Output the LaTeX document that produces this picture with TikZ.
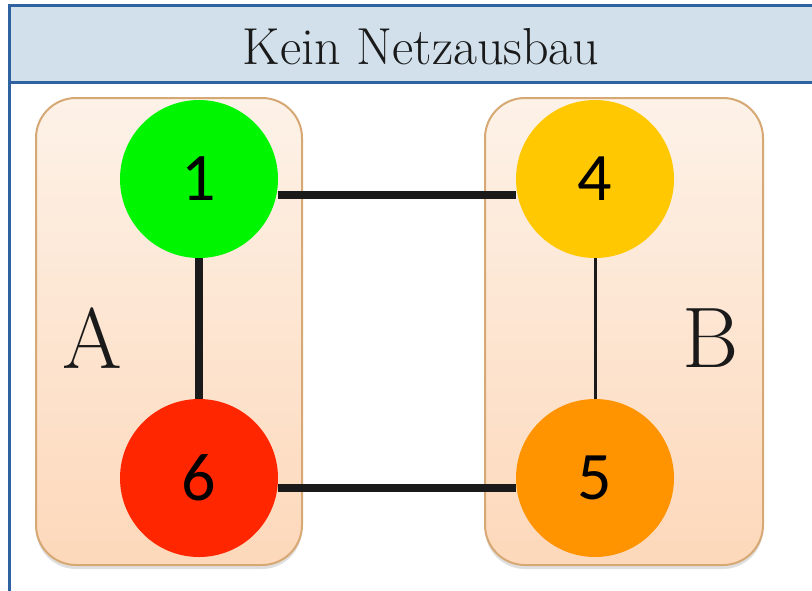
\documentclass[tikz,border=0pt]{standalone}
\usepackage{fontspec}
\newfontfamily\digitfont{Carlito}
\definecolor{frameblue}{RGB}{46, 98, 160}
\definecolor{bandblue}{RGB}{209, 224, 234}
\definecolor{groupedge}{RGB}{214, 168, 116}
\definecolor{grouptop}{RGB}{253, 242, 232}
\definecolor{groupbot}{RGB}{253, 216, 186}
\definecolor{gridgreen}{RGB}{0, 245, 0}
\definecolor{gridyellow}{RGB}{255, 200, 0}
\definecolor{gridorange}{RGB}{255, 148, 0}
\definecolor{gridred}{RGB}{255, 38, 0}
\definecolor{linkgray}{RGB}{26, 26, 26}
\usetikzlibrary{positioning, calc, shadows}

\begin{document}
\begin{tikzpicture}[x=0.5pt, y=-0.5pt,
    group/.style={draw=groupedge, line width=1pt, rounded corners=20pt, top color=grouptop, bottom color=groupbot,
      minimum height=233.5pt, drop shadow={shadow xshift=0pt, shadow yshift=-2pt, opacity=0.25}},
    bus/.style={circle, minimum size=79pt, inner sep=0pt, font=\digitfont\fontsize{34}{34}\selectfont},
    link/.style={draw=linkgray, line width=4pt},
    thinlink/.style={draw=linkgray, line width=1.5pt},
    zone/.style={font=\fontsize{43}{43}\selectfont, text=linkgray}]
  \useasboundingbox (0,0) rectangle (812,590);

  % Frame with title band
  \fill[bandblue] (9,5) rectangle (814,82);
  \draw[frameblue, line width=1.5pt] (814,5) -- (9,5) -- (9,592);
  \draw[frameblue, line width=1.5pt] (9,82) -- (814,82);
  \node[font=\fontsize{26}{26}\selectfont, text=linkgray] (title) at (421,47) {Kein Netzausbau};

  % Areas
  \node[group, minimum width=133pt] (areaA) at (169,331.5) {};
  \node[group, minimum width=139pt] (areaB) at (624,331.5) {};
  \node[zone] (labA) at (92,338) {A};
  \node[zone] (labB) at (711,338) {B};

  % Buses
  \node[bus, fill=gridgreen] (n1) at (199,179) {1};
  \node[bus, fill=gridyellow] (n4) at (595,179) {4};
  \node[bus, fill=gridorange] (n5) at (595,478) {5};
  \node[bus, fill=gridred] (n6) at (199,478) {6};

  % Lines
  \draw[link] ([yshift=-8pt]n1.east) -- ([yshift=-8pt]n4.west);
  \draw[link] ([yshift=-5pt]n6.east) -- ([yshift=-5pt]n5.west);
  \draw[link] (n1) -- (n6);
  \draw[thinlink] (n4) -- (n5);
\end{tikzpicture}
\end{document}
